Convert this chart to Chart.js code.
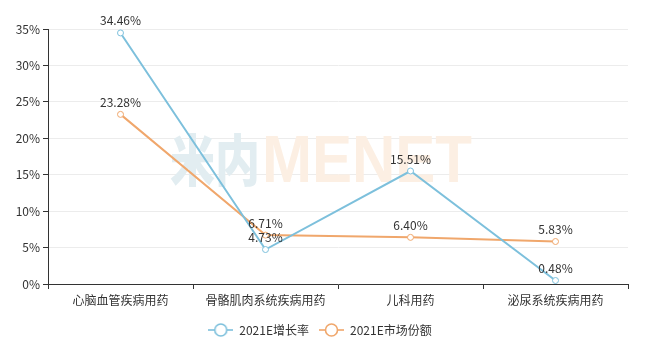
<!DOCTYPE html>
<html>
<head>
<meta charset="utf-8">
<script src="https://cdn.jsdelivr.net/npm/chart.js@4.4.0/dist/chart.umd.min.js"></script>
<style>
  html, body { margin: 0; padding: 0; background: #fff; }
  #wrap { width: 648px; height: 354px; }
</style>
</head>
<body>
<div id="wrap"><canvas id="chart" width="648" height="354"></canvas></div>
<script>
// 数据
const categories = ['心脑血管疾病用药', '骨骼肌肉系统疾病用药', '儿科用药', '泌尿系统疾病用药'];
const growthRate = [34.46, 4.73, 15.51, 0.48];
const marketShare = [23.28, 6.71, 6.40, 5.83];
const seriesNames = ['2021E增长率', '2021E市场份额'];
const yTicks = [0, 5, 10, 15, 20, 25, 30, 35];

const BLUE = '#7dc0dc';
const ORANGE = '#f0a76c';
const FONT = '"Noto Sans CJK SC", "Noto Sans", sans-serif';

// 图例图标：线 + 空心圆
function legendIcon(color) {
    const c = document.createElement('canvas');
    c.width = 25; c.height = 16;
    const g = c.getContext('2d');
    g.strokeStyle = color;
    g.lineWidth = 1.6;
    g.beginPath(); g.moveTo(0, 8); g.lineTo(25, 8); g.stroke();
    g.fillStyle = '#fff';
    g.beginPath(); g.arc(12.5, 8, 6, 0, Math.PI * 2); g.fill(); g.stroke();
    return c;
}

// 水印
function fitText(ctx, text, x, y, w) {
    const m = ctx.measureText(text).width;
    ctx.save();
    ctx.translate(x, y);
    ctx.scale(w / m, 1);
    ctx.fillText(text, 0, 0);
    ctx.restore();
}

const watermark = {
    id: 'watermark',
    afterLayout(chart) {
        // 图例整体略向右
        chart.legend.left += 6;
        chart.legend.right += 6;
    },
    beforeDatasetsDraw(chart) {
        const ctx = chart.ctx;
        ctx.save();
        ctx.textBaseline = 'alphabetic';
        ctx.font = '900 56px ' + FONT;
        ctx.fillStyle = '#e2edf1';
        fitText(ctx, '米内', 170, 181, 90);
        ctx.font = 'bold 67px "Liberation Sans", sans-serif';
        ctx.fillStyle = '#fcefe3';
        fitText(ctx, 'MENET', 262, 182, 210);
        ctx.restore();
    }
};

// 数据标签
const valueLabels = {
    id: 'valueLabels',
    afterDatasetsDraw(chart) {
        const ctx = chart.ctx;
        ctx.save();
        ctx.font = '12px ' + FONT;
        ctx.fillStyle = '#333';
        ctx.textAlign = 'center';
        ctx.textBaseline = 'bottom';
        chart.data.datasets.forEach((ds, i) => {
            chart.getDatasetMeta(i).data.forEach((pt, j) => {
                ctx.fillText(ds.data[j].toFixed(2) + '%', pt.x, pt.y - 6);
            });
        });
        ctx.restore();
    }
};

const ctx = document.getElementById('chart').getContext('2d');
new Chart(ctx, {
    type: 'line',
    data: {
        labels: categories,
        datasets: [{
            label: seriesNames[0],
            data: growthRate,
            borderColor: BLUE,
            backgroundColor: '#fff',
            borderWidth: 2,
            pointRadius: 3,
            pointBorderWidth: 1,
            pointStyle: 'circle',
            tension: 0
        }, {
            label: seriesNames[1],
            data: marketShare,
            borderColor: ORANGE,
            backgroundColor: '#fff',
            borderWidth: 2,
            pointRadius: 3,
            pointBorderWidth: 1,
            pointStyle: 'circle',
            tension: 0
        }]
    },
    options: {
        responsive: false,
        animation: false,
        layout: { padding: { left: 0, right: 20, top: 29, bottom: 8 } },
        scales: {
            x: {
                offset: true,
                grid: { display: true, drawOnChartArea: false, offset: true, tickColor: '#333', tickLength: 5 },
                border: { color: '#333', width: 1 },
                ticks: { color: '#333', font: { family: FONT, size: 12 }, padding: 4, maxRotation: 0 },
                afterFit(s) { s.height = 30; }
            },
            y: {
                min: 0,
                max: 35,
                afterBuildTicks(s) { s.ticks = yTicks.map(v => ({ value: v })); },
                grid: { color: '#ececec', tickColor: '#333', tickLength: 5 },
                border: { color: '#333', width: 1 },
                ticks: { color: '#333', font: { family: FONT, size: 12 }, padding: 3, callback: v => v + '%' },
                afterFit(s) { s.width = 48; }
            }
        },
        plugins: {
            legend: {
                position: 'bottom',
                labels: {
                    color: '#333',
                    font: { family: FONT, size: 12 },
                    usePointStyle: true,
                    pointStyleWidth: 25,
                    padding: 10,
                    generateLabels(chart) {
                        return chart.data.datasets.map((ds, i) => ({
                            text: ds.label,
                            pointStyle: legendIcon(ds.borderColor),
                            fillStyle: '#fff',
                            strokeStyle: ds.borderColor,
                            lineWidth: 0,
                            fontColor: '#333',
                            datasetIndex: i,
                            hidden: false
                        }));
                    }
                }
            },
            tooltip: { enabled: false }
        }
    },
    plugins: [watermark, valueLabels]
});
</script>
</body>
</html>
